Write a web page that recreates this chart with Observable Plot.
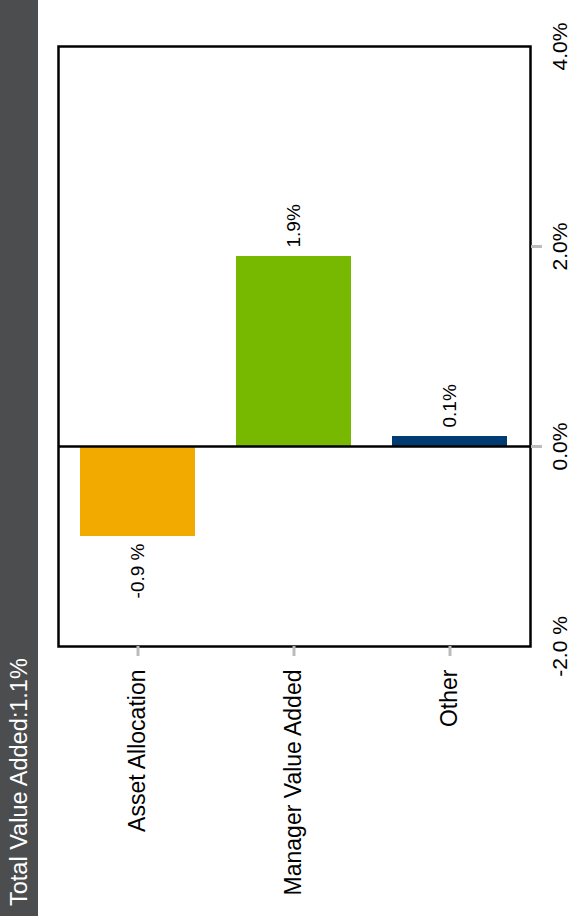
<!DOCTYPE html>
<html>
<head>
<meta charset="utf-8">
<script src="https://cdn.jsdelivr.net/npm/d3@7"></script>
<script src="https://cdn.jsdelivr.net/npm/@observablehq/plot@0.6"></script>
<style>
  html, body { margin: 0; padding: 0; background: #fff; }
  #wrap { position: relative; width: 575px; height: 924px; overflow: hidden; }
  #chart { position: absolute; left: 0; top: 0; }
  #title-bar {
    position: absolute; left: 0; top: 0;
    width: 38px; height: 916px; box-sizing: border-box;
    background: #4b4d4f; color: #fff;
    font-family: "Liberation Sans", Arial, sans-serif; font-size: 23.5px;
    writing-mode: vertical-rl; transform: rotate(180deg);
    line-height: 38px; padding-top: 10px; white-space: nowrap;
  }
</style>
</head>
<body>
<div id="wrap">
  <div id="chart"></div>
  <div id="title-bar"></div>
</div>
<script>
// Attribution components (percent)
const categories = ["Asset Allocation", "Manager Value Added", "Other"];
const values = [-0.9, 1.9, 0.1];
const valueLabels = ["-0.9 %", "1.9%", "0.1%"];
const barColors = ["#f2a900", "#76b900", "#003c71"];

// Value axis
const yTicks = [-2, 0, 2, 4];
const yTickLabels = ["-2.0 %", "0.0%", "2.0%", "4.0%"];
const yTickMarks = [0, 2]; // the outer ticks sit on the frame corners

const totalValueAdded = "1.1%";

const rows = categories.map((c, i) => ({category: c, value: values[i], label: valueLabels[i]}));
const font = "Liberation Sans, Arial, sans-serif";

document.getElementById("title-bar").textContent = `Total Value Added:${totalValueAdded}`;

const chart = Plot.plot({
  width: 575,
  height: 924,
  marginLeft: 58,
  marginRight: 45,
  marginTop: 46,
  marginBottom: 278,
  style: {fontFamily: font, background: "#fff"},
  x: {domain: categories, paddingInner: 0.26, paddingOuter: 0.14},
  y: {domain: [-2, 4]},
  color: {domain: categories, range: barColors},
  marks: [
    Plot.barY(rows, {x: "category", y: "value", fill: "category"}),
    Plot.ruleY([0], {stroke: "#000", strokeWidth: 2.5}),
    Plot.frame({stroke: "#000", strokeWidth: 2.5}),
    // value labels above positive bars, below negative ones
    Plot.text(rows.filter(d => d.value >= 0), {
      x: "category", y: "value", text: "label",
      rotate: -90, textAnchor: "start", lineAnchor: "middle",
      dy: -9, fontSize: 19, fill: "#000"
    }),
    Plot.text(rows.filter(d => d.value < 0), {
      x: "category", y: "value", text: "label",
      rotate: -90, textAnchor: "end", lineAnchor: "middle",
      dy: 7, fontSize: 19, fill: "#000"
    }),
    Plot.axisX({
      anchor: "bottom", label: null, tickSize: 10, tickPadding: 13,
      tickRotate: -90, textAnchor: "end", lineAnchor: "middle",
      stroke: "#bcbcbc", strokeWidth: 3, fill: "#000", fontSize: 23
    }),
    // grey tick marks on the value axis
    Plot.axisY({
      anchor: "right", label: null, ticks: yTickMarks, tickFormat: () => "",
      tickSize: 11, stroke: "#bcbcbc", strokeWidth: 3
    }),
    // value axis labels
    Plot.axisY({
      anchor: "right", label: null, ticks: yTicks,
      tickFormat: d => yTickLabels[yTicks.indexOf(d)],
      tickSize: 0, tickPadding: 22,
      tickRotate: -90, textAnchor: "middle", lineAnchor: "top",
      fill: "#000", fontSize: 21
    })
  ]
});

document.getElementById("chart").appendChild(chart);
</script>
</body>
</html>
